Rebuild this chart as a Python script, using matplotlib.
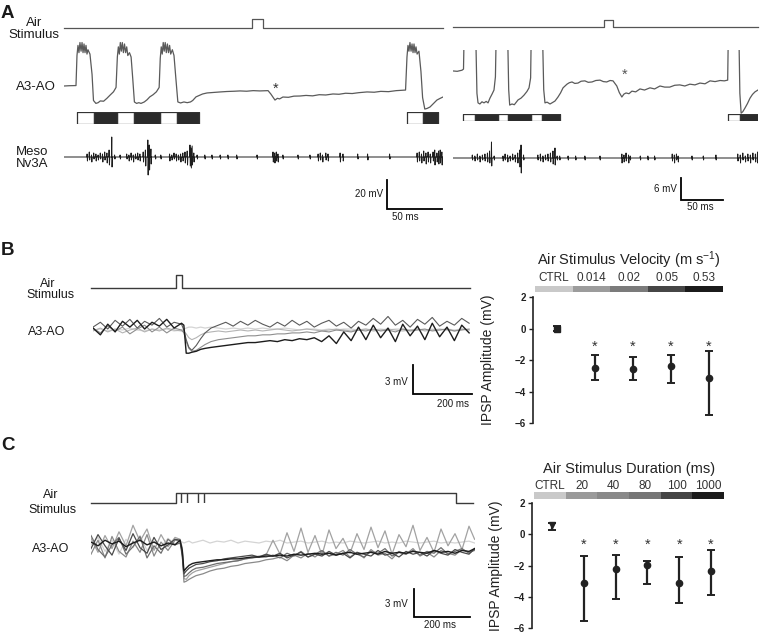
import numpy as np
import matplotlib
matplotlib.use("Agg")
import matplotlib.pyplot as plt

plt.rcParams['font.family'] = ['Liberation Sans', 'DejaVu Sans']
plt.rcParams['mathtext.fontset'] = 'custom'
plt.rcParams['mathtext.rm'] = 'Liberation Sans'
plt.rcParams['mathtext.it'] = 'Liberation Sans:italic'

# ---------------- panel A : burst recordings (ms, mV) ----------------
a_l_t = [0, 5, 10.9,
         11.8, 12.7, 13.6, 14.5, 15.5, 16.4, 17.3, 18.2, 19.1, 20, 20.9, 21.8, 23.6, 25.5, 26.8,
         29, 31, 33, 36, 39, 42, 45, 47.3,
         48.5, 49.4, 50.3, 51.2, 52.1, 53, 54, 55, 56, 57, 58, 59.5, 61, 62.5, 64,
         66, 68, 70, 73, 75.5, 78, 81, 84, 86.5,
         87.5, 88.4, 89.3, 90.2, 91.1, 92, 93, 94, 95, 96, 97, 98.5, 100, 101.5, 103.5,
         106, 109, 112, 115, 117, 120, 123, 126, 130, 135, 142, 148, 155, 160, 166, 172, 178, 185.5,
         188, 191.8, 194, 196, 199, 204, 209, 214.5, 220, 226, 232, 238, 244.5, 250, 256, 262, 268,
         275.5, 282, 288, 295, 302, 310.5,
         311.8, 312.7, 313.6, 314.5, 315.5, 316.4, 317.3, 318.2, 319.1, 320, 321, 322.7, 324.5, 326, 328,
         330, 332.7, 336, 339, 342, 344.5]
a_l_v = [0.0, 0.2, 0.3,
         21, 28, 23, 30, 24, 30, 23, 29, 23, 28, 22, 25, 22, 8, -10,
         -12, -11.5, -10.3, -10.5, -8.5, -6.2, -4, -1,
         20, 27, 22, 30, 24, 30, 23, 29, 23, 27, 21, 23, 20, 5, -11,
         -12, -11.5, -12, -11, -9.5, -7.5, -6, -4, -1,
         19, 27, 22, 30, 24, 30, 23, 29, 23, 28, 22, 25, 21, 7, -11,
         -11.7, -11, -11.5, -11, -10, -7.5, -6.5, -5.5, -4.8, -4.5, -4.1, -3.8, -3.6, -3.4, -3.6, -3.2, -3.4, -3.2,
         -5.5, -9.7, -8.5, -8.9, -7.6, -7.8, -7.0, -6.9, -6.5, -6.8, -6.0, -6.2, -5.5, -5.7, -5.0, -5.2, -4.6,
         -4.1, -4.3, -3.7, -3.9, -3.2, -2.8,
         20, 28, 24, 30, 24, 29, 23, 29, 23, 27, 22, 24, 10, -8, -15.9,
         -15.5, -14.5, -12, -9.7, -8.5, -7.6]

a_r_t = [0, 5, 10.7, 12.5, 13.3, 27.0, 28.5, 29.8, 32, 34.5, 36.9, 39.5, 41.7, 44, 46.5, 48.8, 50.5, 51.5,
         65, 66.3, 67.5, 70.2, 73, 77.4, 81, 84.5, 88, 90.5, 92.4, 93.2,
         106.5, 108, 109.5, 112, 115.5, 118.5, 121.4, 125, 128, 131, 135.7, 138.5, 141.7, 145, 148.8,
         152.5, 157, 161, 165.5, 170, 175, 179, 183, 187, 190.5, 195, 198, 201, 203.5, 206, 209.5,
         213, 217.5, 222.6, 228, 234.5, 240, 246.4, 252, 258, 264, 270, 276, 282, 288, 294, 300,
         306, 312, 318, 323, 327, 327.8, 340.3, 341.5, 343, 345, 347.6, 350.5, 353.6, 356.5, 359.5, 363]
a_r_v = [4.1, 4.0, 4.3, 4.6, 15, 15, -2, -4.6, -4.9, -4.3, -4.6, -4.2, -4.6, -3.3, -2.2, -1.1, 2.5, 15,
         15, -1, -5.2, -4.9, -5.1, -3.8, -3.3, -2.5, -1.5, -0.5, 2.2, 15,
         15, -1, -4.6, -4.4, -4.9, -4.5, -4.1, -3.0, -1.9, -0.5, 0.5, 0.9, 1.1, 0.7, 0.8,
         1.3, 1.4, 1.0, 1.1, 1.5, 1.6, 1.2, 1.1, 1.5, 1.4, 0.0, -1.8, -3.0, -2.2, -1.9, -2.1,
         -1.4, -1.6, -0.8, -1.1, -0.5, -0.8, 0.0, -0.3, -0.3, 0.2, 0.3, 0.0, 0.5, 0.3, 0.8, 0.6,
         1.4, 1.2, 1.5, 1.4, 1.6, 15, 15, -2, -7.4, -7.0, -6.0, -4.8, -3.3, -2.3, -1.6, -1.1]

a_l_stim = (171, 181)
a_r_stim = (180, 190.5)

# depolarised (white) and hyperpolarised (black) phases: start, width (ms)
a_l_white = [(11.8, 15.5), (48.2, 15.4), (87.3, 15.4), (311.8, 14.6)]
a_l_black = [(27.3, 20.9), (63.6, 23.7), (102.7, 20.0), (326.4, 13.6)]
a_r_white = [(11.9, 14.3), (53.6, 11.9), (92.9, 13.1), (327.4, 14.3)]
a_r_black = [(26.2, 27.4), (65.5, 27.4), (106.0, 21.4), (341.7, 21.3)]

# Meso Nv3A extracellular spikes (time ms, positive / negative deflection, a.u.)
meso_l_t = [21, 23, 25, 27, 29, 31, 33, 35, 37, 39, 41, 43.4, 46, 51,
            57, 59, 61, 63, 65, 67, 69, 72, 74, 76.2, 77.5, 79, 83, 88,
            96, 98, 100, 102, 104, 106, 108, 110, 112, 114.5, 115.5, 116.5, 118,
            121, 128, 134.5, 142, 149, 157, 175.5,
            190, 191.5, 193, 194.5, 199, 212.7, 223.6, 231, 233, 235, 238, 240,
            251, 253.6, 267, 276, 296,
            321, 323, 325, 327, 329, 331, 333, 335.5, 337, 339, 340.5, 342, 343.5]
meso_l_up = [3, 5, 2, 4, 3, 2, 4, 3, 5, 4, 7, 20, 2, 2,
             3, 2, 4, 2, 3, 4, 3, 5, 7, 17, 12, 8, 2, 2,
             3, 2, 4, 3, 2, 3, 4, 5, 6, 12, 9, 11, 4,
             2, 2, 2, 2, 2, 2, 2,
             5, 4, 5, 3, 2, 2, 2, 3, 4, 2, 4, 3,
             4, 3, 3, 3, 3,
             4, 5, 3, 6, 4, 5, 3, 5, 7, 4, 6, 7, 5]
meso_l_dn = [-4, -3, -5, -2, -4, -3, -2, -5, -3, -6, -8, -10, -2, -2,
             -2, -4, -3, -5, -2, -3, -4, -5, -9, -18, -13, -7, -2, -2,
             -4, -3, -2, -4, -3, -5, -4, -6, -8, -9, -11, -8, -5,
             -2, -2, -2, -2, -2, -2, -2,
             -5, -6, -4, -5, -2, -2, -2, -4, -3, -5, -3, -4,
             -5, -4, -2, -3, -2,
             -5, -4, -6, -4, -7, -5, -6, -4, -8, -5, -7, -6, -8]

meso_r_t = [23, 26, 29, 32, 35, 38, 41, 43.5, 45.8, 49,
            59.5, 62, 65, 68, 71, 74, 77, 79.5, 81, 84,
            101, 104, 107, 110, 113, 116, 119, 121.4, 124,
            127, 137, 146, 157, 175,
            201, 203.5, 206, 209, 211,
            223, 232, 240, 261, 263.5, 266, 268, 284.5, 298, 313,
            339, 342, 345, 348, 351, 354, 357, 360, 362.5]
meso_r_up = [3, 2, 4, 2, 3, 4, 5, 7, 16, 2,
             2, 4, 3, 2, 4, 3, 5, 8, 13, 3,
             3, 4, 2, 3, 4, 5, 7, 10, 2,
             2, 2, 2, 2, 2,
             4, 3, 5, 3, 2,
             2, 2, 2, 4, 3, 4, 2, 2, 2, 3,
             4, 3, 5, 2, 4, 3, 5, 4, 6]
meso_r_dn = [-2, -3, -2, -4, -2, -3, -4, -5, -8, -2,
             -3, -2, -4, -3, -2, -4, -5, -9, -15, -2,
             -2, -3, -4, -2, -3, -4, -6, -7, -2,
             -2, -2, -2, -2, -2,
             -5, -4, -3, -5, -2,
             -2, -2, -2, -3, -5, -2, -4, -2, -2, -2,
             -3, -5, -2, -4, -3, -5, -2, -4, -5]

# ---------------- panel B : velocity series (ms, mV) ----------------
t_b = [0, 25, 50, 75, 100, 125, 150, 175, 200, 225, 250, 275, 300,
       308, 316, 325, 335, 350, 365, 380,
       400, 425, 450, 475, 500, 525, 550, 575, 600, 625, 650, 675, 700, 725, 750, 775, 800, 825,
       850, 875, 900, 925, 950, 975, 1000, 1025, 1050, 1075, 1100, 1125, 1150, 1175, 1200, 1225, 1250, 1275]
b_ctrl = [0.0, 0.1, -0.1, 0.1, 0.0, 0.2, 0.0, -0.1, 0.1, 0.0, 0.1, -0.1, 0.0,
          0.1, 0.2, 0.3, 0.3, 0.2, 0.3, 0.2,
          0.3, 0.2, 0.1, 0.2, 0.1, 0.2, 0.1, 0.2, 0.1, 0.1, 0.2, 0.1, 0.0, 0.1, 0.1, 0.0, 0.1, 0.0,
          0.1, 0.1, 0.0, 0.1, 0.0, 0.1, 0.0, 0.1, 0.1, 0.0, 0.1, 0.0, 0.1, 0.0, 0.1, 0.0, 0.1, 0.0]
b_v014 = [-0.1, 0.2, -0.2, 0.1, -0.3, 0.0, 0.2, -0.2, 0.1, -0.1, 0.2, 0.0, -0.1,
          -0.1, -0.4, -0.8, -1.0, -0.8, -0.5, -0.3,
          -0.2, -0.1, -0.2, -0.1, 0.0, -0.1, 0.0, -0.1, 0.0, 0.1, 0.0, -0.1, 0.0, 0.1, 0.0, -0.1, 0.0, 0.1,
          0.0, -0.1, 0.0, 0.1, -0.1, 0.0, 0.1, 0.0, -0.1, 0.0, 0.1, -0.1, 0.0, 0.1, 0.0, -0.1, 0.1, 0.0]
b_v02 = [0.2, -0.3, 0.4, -0.1, 0.3, -0.4, 0.1, 0.5, -0.2, 0.3, -0.3, 0.2, 0.0,
         -0.3, -1.2, -1.9, -2.2, -2.1, -1.8, -1.5,
         -1.2, -1.0, -0.9, -0.8, -0.7, -0.6, -0.6, -0.5, -0.5, -0.4, -0.4, -0.3, -0.3, -0.2, -0.3, -0.1,
         -0.2, 0.0, -0.1, -0.2, 0.0, -0.1, 0.1, -0.1, 0.0, -0.2, 0.1, -0.1, 0.0, 0.1, -0.1, 0.0, 0.1, -0.1,
         0.0, 0.1]
b_v05 = [0.3, 0.8, 0.1, 1.0, 0.4, 1.1, 0.2, 0.9, 0.5, 1.2, 0.3, 0.8, 0.6,
         0.0, -1.0, -1.8, -2.1, -1.6, -0.9, -0.3,
         0.2, 0.5, 0.8, 0.4, 0.9, 0.5, 1.0, 0.6, 0.3, 0.8, 0.4, 1.0, 0.5, 0.9, 0.3, 0.7, 1.0, 0.4, 0.8, 0.2,
         0.9, 0.5, 1.2, 0.6, 1.4, 0.5, 1.0, 0.3, 1.1, 0.6, 1.3, 0.4, 0.9, 0.5, 1.2, 0.7]
b_v53 = [0.2, -0.5, 0.6, -0.2, 0.9, 0.3, 1.0, 0.1, 0.8, 0.4, 1.1, 0.2, 0.7,
         0.5, -2.4, -2.4, -2.3, -2.2, -2.0, -1.9,
         -1.8, -1.7, -1.6, -1.5, -1.4, -1.3, -1.3, -1.2, -1.1, -1.2, -1.0, -1.1, -0.9, -1.0, -0.8, -1.2,
         -0.6, -1.4, -0.2, -1.1, 0.3, -1.0, 0.5, -0.8, 0.2, -1.2, 0.6, -0.6, 0.4, -1.0, 0.7, -0.7, 0.3,
         -1.1, 0.5, -0.3]
b_stim = (281, 302)

# ---------------- panel C : duration series (ms, mV) ----------------
t_c = [0, 25, 50, 75, 100, 125, 150, 175, 200, 225, 250, 275, 300,
       318, 326, 332, 340, 350, 362, 375,
       400, 425, 450, 475, 500, 525, 550, 575, 600, 625, 650, 675, 700, 725, 750, 775, 800, 825, 850, 875,
       900, 925, 950, 975, 1000, 1025, 1050, 1075, 1100, 1125, 1150, 1175, 1200, 1225, 1250, 1275, 1300,
       1325, 1350, 1370]
c_ctrl = [-0.2, 0.6, -0.9, 0.3, -1.2, 0.4, -0.5, 0.8, -0.8, 0.2, -0.4, 0.5, -0.1,
          0.2, 0.1, 0.0, 0.1, 0.2, 0.0, 0.1,
          0.3, 0.0, 0.2, 0.1, 0.3, 0.0, 0.2, 0.1, 0.0, 0.2, 0.1, 0.3, 0.0, 0.1, 0.2, 0.0, 0.1, 0.2, 0.0, 0.1,
          0.0, 0.2, 0.1, 0.0, 0.1, 0.2, 0.0, 0.1, 0.0, 0.2, 0.1, 0.0, 0.1, 0.2, 0.0, 0.1, 0.0, 0.1, 0.2, 0.0]
c_d20 = [0.5, -1.0, 0.8, -0.6, 1.2, -0.3, 1.9, 0.2, 1.5, -0.8, 0.9, -0.4, 0.6,
         0.4, -0.5, -3.8, -3.9, -3.5, -3.2, -3.0,
         -2.8, -2.6, -2.4, -2.2, -2.0, -1.9, -1.7, -1.6, -1.4, -1.3, 0.3, -1.2, 1.1, -0.9, 1.6, -1.0, 0.8,
         -1.3, 1.4, -0.6, 0.5, -1.1, 1.0, -0.7, 1.7, -0.5, 1.3, -1.2, 0.9, -0.4, 1.9, -0.8, 0.6, -1.0, 1.5,
         -0.3, 1.0, -0.7, 1.8, 0.4]
c_d40 = [-1.2, 0.3, -1.6, 0.7, -0.9, -1.5, 0.2, -1.0, 0.9, -1.4, 0.1, -0.8, 0.3,
         0.2, -0.8, -4.2, -4.1, -3.9, -3.7, -3.5,
         -3.3, -3.0, -2.8, -2.7, -2.5, -2.4, -2.2, -2.1, -2.0, -1.8, -1.7, -1.5, -1.9, -1.3, -1.6, -1.1,
         -1.5, -0.9, -1.4, -1.2, -0.8, -1.5, -1.0, -1.6, -0.7, -1.3, -1.1, -1.7, -0.9, -1.2, -0.6, -1.4,
         -1.0, -1.5, -0.8, -1.1, -1.3, -0.7, -1.0, -0.8]
c_d80 = [0.8, -0.7, -1.5, -0.2, 0.6, -1.2, -0.4, 0.7, -1.6, -0.3, -1.1, 0.4, -0.2,
         0.0, -1.0, -3.6, -3.5, -3.2, -2.9, -2.7,
         -2.6, -2.4, -2.2, -2.1, -2.0, -1.9, -1.7, -1.6, -1.5, -1.5, -1.3, -1.6, -1.1, -1.4, -0.9, -1.5,
         -1.2, -0.8, -1.4, -1.0, -1.3, -0.7, -1.2, -1.5, -0.9, -1.1, -0.6, -1.4, -1.0, -1.2, -0.8, -1.3,
         -0.9, -1.1, -0.5, -1.2, -0.9, -0.6, -1.1, -0.7]
c_d100 = [-0.6, 0.9, -0.3, -1.3, 0.5, -0.8, 1.0, -0.5, -1.1, 0.6, -0.7, -0.2, 0.4,
          0.3, -1.5, -3.3, -3.0, -2.7, -2.5, -2.3,
          -2.2, -2.0, -1.9, -1.7, -1.6, -1.5, -1.4, -1.3, -1.5, -1.2, -1.4, -1.1, -1.6, -1.3, -1.0, -1.5,
          -1.2, -1.4, -0.9, -1.3, -1.1, -1.6, -1.0, -1.2, -1.4, -0.8, -1.3, -1.1, -1.5, -0.9, -1.2, -1.0,
          -1.4, -0.8, -1.1, -1.3, -0.7, -1.0, -1.2, -0.6]
c_d1000 = [0.1, -0.3, 0.3, -0.1, 0.2, -0.4, 0.0, 0.3, -0.2, 0.1, -0.3, 0.0, -0.2,
           0.3, -0.8, -3.0, -2.7, -2.4, -2.2, -2.1,
           -2.0, -1.9, -1.8, -1.8, -1.7, -1.7, -1.6, -1.5, -1.5, -1.4, -1.4, -1.3, -1.4, -1.2, -1.3, -1.2,
           -1.1, -1.2, -1.1, -1.3, -1.1, -1.0, -1.2, -1.1, -1.0, -1.2, -0.9, -1.1, -1.0, -1.1, -0.9, -1.0,
           -1.1, -0.8, -1.0, -0.9, -1.1, -0.8, -0.9, -0.6]
c_onset = 303
c_durations = [20, 40, 80, 100, 1000]

# ---------------- IPSP summaries (mV) ----------------
vel_labels = ['CTRL', '0.014', '0.02', '0.05', '0.53']
vel_mean = [0.0, -2.5, -2.56, -2.41, -3.15]
vel_lo = [-0.16, -3.3, -3.26, -3.47, -5.52]
vel_hi = [0.15, -1.71, -1.82, -1.71, -1.44]
vel_colors = ['#c9c9c9', '#9c9c9c', '#7b7b7b', '#464646', '#1b1b1b']

dur_labels = ['CTRL', '20', '40', '80', '100', '1000']
dur_mean = [0.62, -3.12, -2.2, -1.99, -3.1, -2.37]
dur_lo = [0.26, -5.56, -4.12, -3.2, -4.4, -3.87]
dur_hi = [0.72, -1.39, -1.35, -1.71, -1.45, -1.03]
dur_colors = ['#c9c9c9', '#9a9a9a', '#898989', '#767676', '#454545', '#1b1b1b']

# ================= drawing =================
W, H = 760, 636
fig = plt.figure(figsize=(W / 100, H / 100), dpi=100)
PT = 0.72  # points per pixel


def px_axes(x0, y0, x1, y1, off=True):
    ax = fig.add_axes([x0 / W, 1 - y1 / H, (x1 - x0) / W, (y1 - y0) / H])
    if off:
        ax.set_axis_off()
    return ax


def trace_axes(x0, x1, y_top, y_bot, px_ms, px_mv, y_zero, t0=0.0):
    ax = px_axes(x0, y_top, x1, y_bot)
    ax.set_xlim(t0, t0 + (x1 - x0) / px_ms)
    ax.set_ylim((y_zero - y_bot) / px_mv, (y_zero - y_top) / px_mv)
    return ax


def ftext(x, y, s, **kw):
    kw.setdefault('va', 'baseline')
    kw.setdefault('ha', 'center')
    kw.setdefault('color', '#1a1a1a')
    fig.text(x / W, 1 - y / H, s, **kw)


def stim_trace(ax, on, off, t_end, color='#555555', lw=0.9):
    ax.plot([ax.get_xlim()[0], on, on, off, off, t_end], [0, 0, 1, 1, 0, 0],
            color=color, lw=lw, clip_on=False)


def spike_trace(times, ups, downs, t_end):
    t, v = [0.0], [0.0]
    for s, u, d in zip(times, ups, downs):
        t += [s - 0.3, s, s + 0.3, s + 0.6]
        v += [0, u, d, 0]
    t.append(t_end)
    v.append(0)
    return t, v


def scalebar(x, y_bot, ms, mv, px_ms, px_mv):
    ax = px_axes(x, y_bot - mv * px_mv, x + ms * px_ms, y_bot)
    ax.set_xlim(0, ms)
    ax.set_ylim(0, mv)
    ax.plot([0, 0, ms], [mv, 0, 0], color='black', lw=1.3, clip_on=False,
            solid_joinstyle='miter')


# ---- panel A left ----
ax = px_axes(64, 19, 443, 28)
ax.set_xlim(0, 379 / 1.1); ax.set_ylim(0, 1)
stim_trace(ax, *a_l_stim, 379 / 1.1)

ax = trace_axes(64, 443, 40, 130, 1.1, 1.45, 86)
ax.plot(a_l_t, a_l_v, color='#5a5a5a', lw=0.9)
ax.annotate('*', xy=(192.7, 0), xytext=(0, -5), textcoords='offset points',
            ha='center', va='baseline', fontsize=10.5, color='#333333')

ax = px_axes(64, 112, 443, 124)
ax.set_xlim(0, 379 / 1.1); ax.set_ylim(0, 1)
ax.broken_barh(a_l_white, (0, 1), facecolor='white', edgecolor='#333333', lw=0.9)
ax.broken_barh(a_l_black, (0, 1), facecolor='#2b2b2b', edgecolor='#333333', lw=0.9)

ax = px_axes(64, 132, 443, 182)
ax.set_xlim(0, 379 / 1.1); ax.set_ylim(-25, 25)
mt, mv = spike_trace(meso_l_t, meso_l_up, meso_l_dn, 379 / 1.1)
ax.plot(mt, mv, color='#1e1e1e', lw=0.7)

scalebar(387, 209, 50, 20, 1.1, 1.45)
ftext(383, 197, '20 mV', ha='right', fontsize=7)
ftext(405, 220, '50 ms', fontsize=7)

# ---- panel A right ----
ax = px_axes(453, 20, 758, 27)
ax.set_xlim(0, 305 / 0.84); ax.set_ylim(0, 1)
stim_trace(ax, *a_r_stim, 305 / 0.84)

ax = trace_axes(453, 758, 50, 128, 0.84, 3.67, 86)
ax.plot(a_r_t, a_r_v, color='#5a5a5a', lw=0.9)
ax.annotate('*', xy=(204.8, 3.95), xytext=(0, -5), textcoords='offset points',
            ha='center', va='baseline', fontsize=10.5, color='#555555')

ax = px_axes(453, 114, 758, 121)
ax.set_xlim(0, 305 / 0.84); ax.set_ylim(0, 1)
ax.broken_barh(a_r_white, (0, 1), facecolor='white', edgecolor='#333333', lw=0.9)
ax.broken_barh(a_r_black, (0, 1), facecolor='#2b2b2b', edgecolor='#333333', lw=0.9)

ax = px_axes(453, 132, 758, 182)
ax.set_xlim(0, 305 / 0.84); ax.set_ylim(-24, 26)
mt, mv = spike_trace(meso_r_t, meso_r_up, meso_r_dn, 305 / 0.84)
ax.plot(mt, mv, color='#1e1e1e', lw=0.7)

scalebar(681, 200, 50, 6, 0.84, 3.67)
ftext(677, 192, '6 mV', ha='right', fontsize=7)
ftext(700, 210, '50 ms', fontsize=7)

# ---- panel B traces ----
ax = px_axes(91, 275, 470, 288)
ax.set_xlim(-2 / 0.295, 377 / 0.295); ax.set_ylim(0, 1)
stim_trace(ax, *b_stim, 377 / 0.295, color='#3a3a3a', lw=1.0)

ax = trace_axes(93, 471, 310, 362, 0.295, 9.67, 330)
for v, c, lw in [(b_ctrl, '#d4d4d4', 0.9), (b_v014, '#b4b4b4', 0.8), (b_v02, '#8e8e8e', 0.8),
                 (b_v05, '#5a5a5a', 0.8), (b_v53, '#1c1c1c', 1.0)]:
    ax.plot(t_b, v, color=c, lw=lw)
scalebar(413, 394, 200, 3, 0.295, 9.67)
ftext(408, 385, '3 mV', ha='right', fontsize=7)
ftext(453, 407, '200 ms', fontsize=7)

# ---- panel C traces ----
ax = px_axes(91, 493, 473, 503)
ax.set_xlim(0, 382 / 0.28); ax.set_ylim(0, 1)
stim_trace(ax, c_onset, c_onset + c_durations[-1], 382 / 0.28, color='#3a3a3a', lw=1.0)
ax.vlines([c_onset + d for d in c_durations[:-1]], 0, 1, color='#3a3a3a', lw=1.0)

ax = trace_axes(91, 475, 515, 592, 0.28, 9.33, 543)
for v, c, lw in [(c_ctrl, '#d4d4d4', 0.9), (c_d20, '#a2a2a2', 0.9), (c_d40, '#8a8a8a', 0.9),
                 (c_d80, '#6e6e6e', 0.9), (c_d100, '#4a4a4a', 0.9), (c_d1000, '#1c1c1c', 1.0)]:
    ax.plot(t_c, v, color=c, lw=lw)
scalebar(414, 617, 200, 3, 0.28, 9.33)
ftext(408, 607, '3 mV', ha='right', fontsize=7)
ftext(440, 628, '200 ms', fontsize=7)


# ---- IPSP summary panels ----
def summary(box, cbox, labels, mean, lo, hi, colors, title, ctrl_marker, star_y, xlim,
            lab_dy, title_dy, ylab_x):
    ax = px_axes(*box, off=False)
    n = len(labels)
    for i in range(n):
        ax.errorbar(i, mean[i], yerr=[[mean[i] - lo[i]], [hi[i] - mean[i]]],
                    fmt=ctrl_marker if i == 0 else 'o', ms=4.5 if i else 4, color='#222222',
                    ecolor='#222222', elinewidth=1.6, capsize=3, capthick=1.4)
        if i > 0:
            ax.annotate('*', xy=(i, star_y), xytext=(0, -6), textcoords='offset points',
                        ha='center', va='baseline', fontsize=10.5, color='#333333')
    ax.set_xlim(*xlim)
    ax.set_ylim(-6, 2)
    ax.set_yticks([-6, -4, -2, 0, 2])
    for s in ['top', 'right', 'bottom']:
        ax.spines[s].set_visible(False)
    ax.spines['left'].set_linewidth(1.2)
    ax.spines['left'].set_color('#222222')
    ax.set_xticks([])
    ax.tick_params(axis='y', length=3, width=1, pad=2, labelsize=7, colors='#222222')
    for lb in ax.get_yticklabels():
        lb.set_fontweight('bold')
    ax.set_ylabel('IPSP Amplitude (mV)', fontsize=10, color='#222222')
    ax.yaxis.set_label_coords(ylab_x, 0.5)
    ax.patch.set_alpha(0)

    cax = px_axes(*cbox)
    cax.bar(range(n), [1] * n, width=1, color=colors)
    cax.set_xlim(-0.5, n - 0.5)
    cax.set_ylim(0, 1)
    for i, lab in enumerate(labels):
        cax.annotate(lab, xy=(i, 1), xycoords=('data', 'axes fraction'),
                     xytext=(0, lab_dy * PT), textcoords='offset points',
                     ha='center', va='baseline', fontsize=8.5, color='#333333')
    cax.annotate(title, xy=(0.5, 1), xycoords='axes fraction',
                 xytext=(0, title_dy * PT), textcoords='offset points',
                 ha='center', va='baseline', fontsize=10.5, color='#222222')


summary((533, 297, 723, 423), (535, 286, 723, 292), vel_labels, vel_mean, vel_lo, vel_hi,
        vel_colors, 'Air Stimulus Velocity (m s$^{-1}$)', 's', -0.87, (-0.63, 4.37),
        5, 21, -0.2)
summary((532, 503, 724, 628), (534, 492, 724, 499), dur_labels, dur_mean, dur_lo, dur_hi,
        dur_colors, 'Air Stimulus Duration (ms)', 'v', -0.38, (-0.63, 5.41),
        3, 19, -0.15)

# ---- labels ----
ftext(7, 18, 'A', fontsize=13.5, fontweight='bold')
ftext(8, 255, 'B', fontsize=13.5, fontweight='bold')
ftext(8, 450, 'C', fontsize=13.5, fontweight='bold')

ftext(34, 26.5, 'Air', fontsize=9.5)
ftext(34, 38.5, 'Stimulus', fontsize=9.5)
ftext(36, 90.5, 'A3-AO', fontsize=9.5)
ftext(32, 155, 'Meso', fontsize=9.5)
ftext(32, 167, 'Nv3A', fontsize=9.5)

ftext(48, 287, 'Air', fontsize=9)
ftext(50, 298.5, 'Stimulus', fontsize=9)
ftext(47, 335, 'A3-AO', fontsize=9)

ftext(51, 498, 'Air', fontsize=9)
ftext(52, 513, 'Stimulus', fontsize=9)
ftext(51, 552, 'A3-AO', fontsize=9)

fig.savefig('out.png', dpi=100, facecolor='white')
